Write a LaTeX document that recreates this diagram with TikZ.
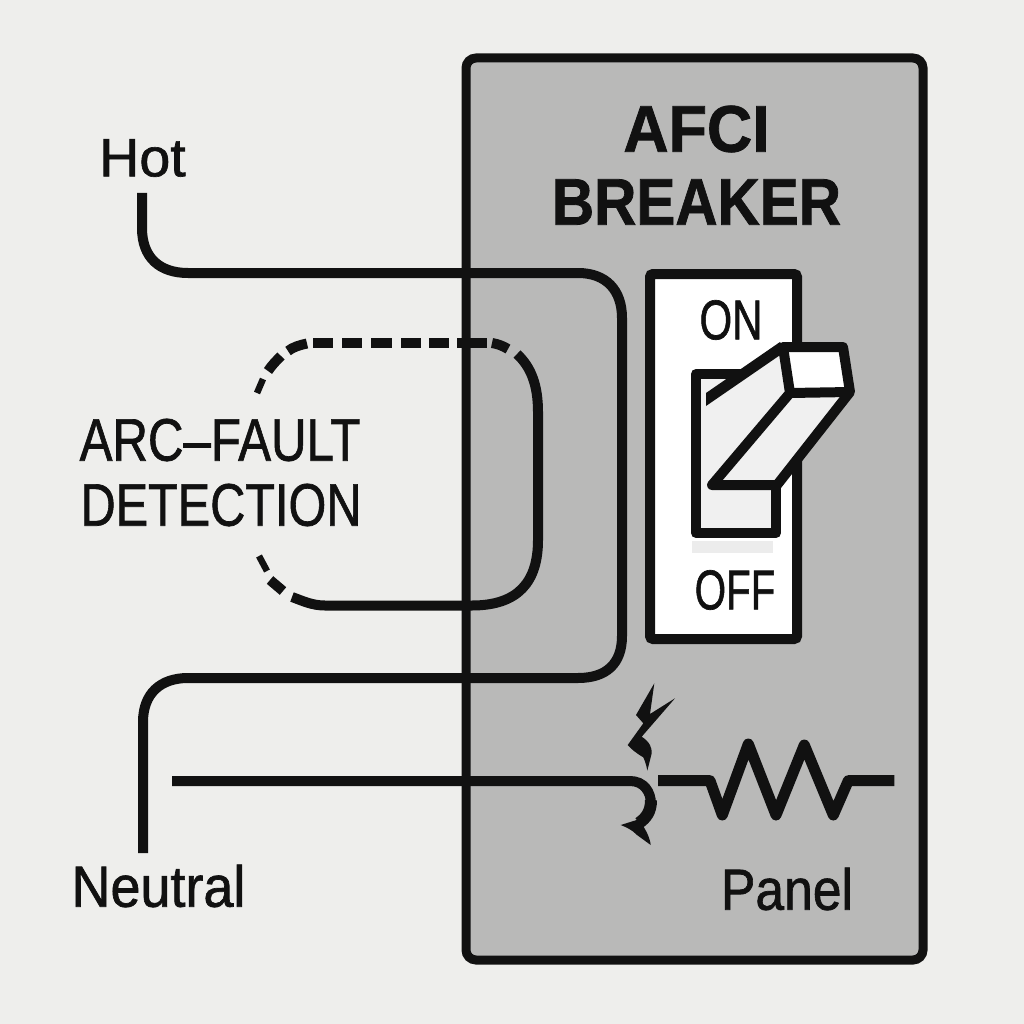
\documentclass[tikz,border=0pt]{standalone}
\usepackage{fontspec}
\usepackage{graphicx}
\setmainfont{Liberation Sans}
\newfontfamily\heavy[FakeBold=1.2]{Liberation Sans}
\newfontfamily\heavytitle[FakeBold=1.2]{Liberation Sans Bold}
\usetikzlibrary{calc}
\definecolor{bgc}{HTML}{EEEEEC}
\definecolor{panelc}{HTML}{B9B9B8}
\definecolor{ink}{HTML}{111111}
\definecolor{facec}{HTML}{F0F0F0}
\newcommand{\fs}[1]{\fontsize{#1}{#1}\selectfont}
\newcommand{\lbl}[3]{\scalebox{#2}[1]{\fs{#1}\heavy #3}}
\newcommand{\ttl}[2]{\scalebox{#1}[1]{\fs{66}\heavytitle #2}}
\tikzset{
  wire/.style={draw=ink,line width=10pt},
  dashpart/.style={draw=ink,line width=10pt},
  thindash/.style={draw=ink,line width=6.5pt},
  outline/.style={draw=ink,line width=10pt},
  lab/.style={inner sep=0pt,text=ink,anchor=center},
  inkfill/.style={fill=ink,draw=none}
}
\begin{document}
\begin{tikzpicture}[x=1pt,y=-1pt]
\useasboundingbox (0,0) rectangle (1024,1024);
\fill[bgc] (0,0) rectangle (1024,1024);
% panel
\fill[panelc,rounded corners=10pt] (466,58) rectangle (923,960);
% wires
\coordinate (hotS) at (142,193);
\coordinate (hotE) at (143,853);
\draw[wire] (hotS) -- (142,228) .. controls (142,258) and (160,273) .. (188,273)
  -- (578,273) .. controls (606,273) and (622,290) .. (622,318)
  -- (622,636) .. controls (622,664) and (606,678) .. (578,678)
  -- (188,678) .. controls (160,678) and (143,694) .. (143,722) -- (hotE);
% loop
\draw[wire] (517,354) .. controls (531,367) and (538,385) .. (538,412)
  -- (538,540) .. controls (538,582) and (518,605.5) .. (472,605.5)
  -- (325,605.5) .. controls (312,605.5) and (303,601) .. (292,597);
\foreach \a/\b in {313/333,342/362,371/392,401/421,429/449,457/487}
  \draw[dashpart] (\a,343) -- (\b,343);
\draw[dashpart] (492,343) .. controls (498,344) and (503,346) .. (508,349);
\draw[dashpart] (288,351) .. controls (293,347) and (300,345) .. (307,343.5);
\draw[dashpart] (268,371) .. controls (272,365) and (276,361) .. (281,356);
\draw[thindash] (257,393) -- (263,379);
\draw[thindash] (259,556) -- (267,571);
\draw[dashpart] (270,580) -- (283,591);
% panel border over wires
\draw[draw=ink,line width=9pt,rounded corners=10pt] (466,58) rectangle (923,960);
% switch plate
\draw[outline,fill=white,rounded corners=3pt] (650,274) rectangle (797,639);
% rocker
\fill[facec] (696,374) rectangle (776,533);
\fill[gray!15] (692,541) rectangle (773,553);
% lever
\coordinate (la) at (706,400);
\coordinate (lb) at (783,347);
\coordinate (lc) at (843,347);
\coordinate (ld) at (850,392);
\coordinate (le) at (790,393);
\coordinate (lf) at (777,485);
\coordinate (lg) at (712,485);
\fill[facec] (la) -- (lb) -- (le) -- (lg) -- (696,485) -- (696,410) -- cycle;
\draw[outline,line join=round] (745,374) -- (696,374) -- (696,533) -- (776,533) -- (776,485);
\fill[white] (lb) -- (lc) -- (ld) -- (le) -- cycle;
\fill[facec] (le) -- (ld) -- (lf) -- (lg) -- cycle;
\draw[outline,line join=round] (lb) -- (lc) -- (ld) -- (lf) -- (lg) -- (le) -- cycle;
\draw[outline] (le) -- (ld);
\fill[ink] (706,393) -- (780,342) -- (786,351) -- (706,406) -- cycle;
% lightning
\fill[inkfill] (654.3,683.3) -- (650,714) -- (675,698.3) -- (641.7,736.7)
  .. controls (650,742) and (652,748) .. (651.7,753.3) -- (647.3,770.7)
  .. controls (646,763) and (644,759) .. (643.3,757.3)
  .. controls (636,753) and (631,749) .. (627.7,745) -- (643.3,723.3) -- (636,715) -- cycle;
% neutral hook
\coordinate (nS) at (172,781);
\draw[wire] (nS) -- (630,781) .. controls (644,781) and (651,792) .. (651,804);
\draw[draw=ink,line width=12pt] (651,800) .. controls (651,812) and (646,818) .. (639,823);
\fill[inkfill] (643,818) -- (620.7,825) .. controls (628,828) and (632,830) .. (637,835)
  -- (650.7,845) .. controls (650,838) and (646,830) .. (641.7,824) -- cycle;
% resistor
\coordinate (rS) at (658,780.7);
\coordinate (rE) at (894.3,780.7);
\draw[draw=ink,line width=11pt,line join=round] (rS) -- (710,780.7) -- (722.3,815) -- (748.3,744)
  -- (776,815) -- (804.3,745) -- (833.3,815) -- (848.3,780.7) -- (rE);
% labels
\node[lab] (title1) at (696.5,129) {\ttl{0.95}{AFCI}};
\node[lab] (title2) at (696.5,202) {\ttl{0.886}{BREAKER}};
\node[lab] (on) at (731,320) {\lbl{56}{0.75}{ON}};
\node[lab] (off) at (735,590) {\lbl{56}{0.72}{OFF}};
\node[lab] (hot) at (142.5,158) {\lbl{54}{1.03}{Hot}};
\node[lab] (neutral) at (158.5,886) {\lbl{58}{0.93}{Neutral}};
\node[lab] (panel) at (787,889) {\lbl{58}{0.89}{Panel}};
\node[lab] (arc1) at (220,440) {\lbl{60}{0.82}{ARC–FAULT}};
\node[lab] (arc2) at (221,505) {\lbl{60}{0.81}{DETECTION}};
\end{tikzpicture}
\end{document}
